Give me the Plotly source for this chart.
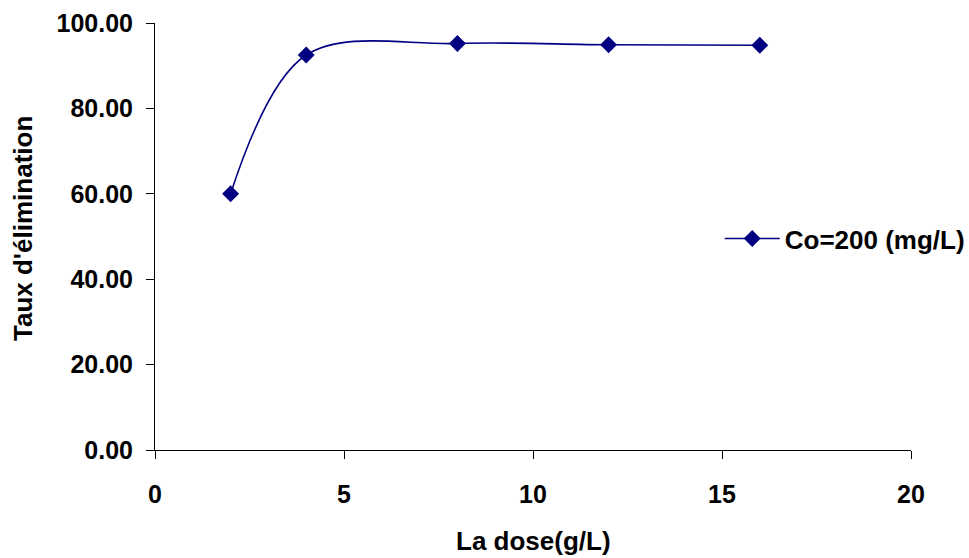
import plotly.graph_objects as go

# Adsorbent dose (g/L) and removal rate (%)
dose = [2, 4, 8, 12, 16]
removal = [60.0, 92.5, 95.2, 94.9, 94.8]
series_name = "Co=200 (mg/L)"

x_ticks = [0, 5, 10, 15, 20]
y_ticks = [0, 20, 40, 60, 80, 100]

x_title = "La dose(g/L)"
y_title = "Taux d'élimination"

navy = "#000080"
font_family = "Liberation Sans, Arial, sans-serif"
title_font = dict(size=26, family=font_family, color="black", weight="bold")

fig = go.Figure()
fig.add_trace(go.Scatter(
    x=dose, y=removal, name=series_name,
    mode="lines+markers",
    line=dict(color=navy, width=1.6, shape="spline", smoothing=1.0),
    marker=dict(symbol="diamond", size=13, color=navy),
    showlegend=True,
))

fig.update_layout(
    width=969, height=558,
    margin=dict(l=155, r=58, t=23, b=108, autoexpand=False),
    paper_bgcolor="white", plot_bgcolor="white",
    font=dict(family=font_family, color="black", size=25),
    showlegend=True,
    legend=dict(
        x=0.747, y=0.495, xanchor="left", yanchor="middle",
        font=dict(size=26, family=font_family, color="black", weight="bold"),
        bgcolor="rgba(0,0,0,0)", itemwidth=55,
    ),
    xaxis=dict(
        range=[0, 20], tickvals=x_ticks, ticktext=[str(v) for v in x_ticks],
        showline=True, linecolor="black", linewidth=1,
        ticks="outside", ticklen=8, tickcolor="black", tickwidth=1,
        showgrid=False, zeroline=False, ticklabelstandoff=14,
        tickfont=dict(size=25, family=font_family, weight="bold"),
    ),
    yaxis=dict(
        range=[0, 100], tickvals=y_ticks, tickformat=".2f",
        showline=True, linecolor="black", linewidth=1,
        ticks="outside", ticklen=8, tickcolor="black", tickwidth=1,
        showgrid=False, zeroline=False, ticklabelstandoff=8,
        tickfont=dict(size=25, family=font_family, weight="bold"),
    ),
    annotations=[
        dict(text=x_title, xref="paper", yref="paper", x=0.5013, y=-0.2131,
             xanchor="center", yanchor="middle", showarrow=False, font=title_font,
             borderpad=0),
        dict(text=y_title, xref="paper", yref="paper", x=-0.1746, y=0.5176,
             xanchor="center", yanchor="middle", textangle=-90, showarrow=False,
             font=title_font),
    ],
)

fig.write_html("out.html")
